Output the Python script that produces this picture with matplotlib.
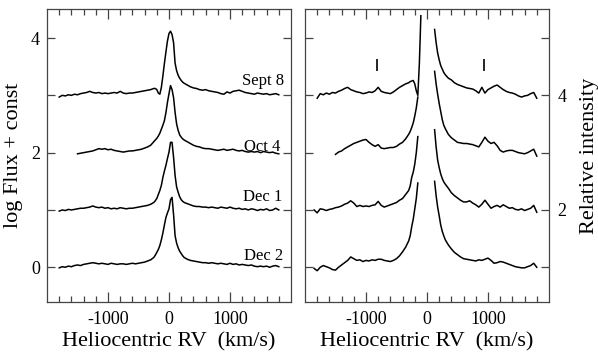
import numpy as np
import matplotlib
matplotlib.use("Agg")
import matplotlib.pyplot as plt

nan = np.nan

# --- left panel: log flux spectra (offset by 3, 2, 1, 0) ---
vel_blue = [-1800, -1750, -1700, -1650, -1600, -1550, -1500, -1450, -1400, -1350,
            -1300, -1250, -1200, -1150, -1100, -1050, -1000, -950, -900, -850,
            -800, -750, -700, -650, -600, -550, -500, -450, -400, -350, -300]
vel_core = [-250, -225, -200, -175, -150, -125, -100, -75, -50, -25, 0,
            25, 50, 75, 100, 125, 150, 175, 200, 225, 250]
vel_red = [300, 350, 400, 450, 500, 550, 600, 650, 700, 750, 800, 850, 900, 950,
           1000, 1050, 1100, 1150, 1200, 1250, 1300, 1350, 1400, 1450, 1500,
           1550, 1600, 1650, 1700, 1750, 1800]
vel = vel_blue + vel_core + vel_red

sep8 = ([2.97, 3.00, 2.99, 3.01, 3.00, 3.02, 3.01, 3.03, 3.04, 3.05,
         3.07, 3.05, 3.04, 3.05, 3.03, 3.04, 3.03, 3.04, 3.05, 3.04,
         3.07, 3.04, 3.03, 3.04, 3.04, 3.05, 3.06, 3.07, 3.08, 3.09, 3.10]
        + [3.12, 3.12, 3.10, 3.04, 3.02, 3.14, 3.34, 3.56, 3.76, 3.95, 4.08,
           4.12, 4.06, 3.92, 3.56, 3.43, 3.35, 3.30, 3.26, 3.23, 3.21]
        + [3.18, 3.15, 3.13, 3.12, 3.10, 3.09, 3.10, 3.08, 3.07, 3.06, 3.05,
           3.03, 3.02, 3.06, 3.04, 3.07, 3.08, 3.09, 3.07, 3.05, 3.04, 3.03,
           3.02, 3.04, 3.03, 3.02, 3.03, 3.01, 3.02, 3.03, 3.01])

oct4 = ([nan, nan, nan, nan, nan, nan, 1.98, 1.99, 2.00, 2.01,
         2.02, 2.03, 2.05, 2.07, 2.06, 2.07, 2.05, 2.06, 2.04, 2.03,
         2.02, 2.01, 2.02, 2.03, 2.03, 2.04, 2.05, 2.06, 2.08, 2.10, 2.13]
        + [2.19, 2.22, 2.25, 2.29, 2.34, 2.41, 2.48, 2.56, 2.70, 2.88, 3.03,
           3.17, 3.10, 2.96, 2.70, 2.50, 2.39, 2.31, 2.27, 2.24, 2.22]
        + [2.19, 2.16, 2.13, 2.11, 2.10, 2.08, 2.07, 2.07, 2.06, 2.05, 2.04,
           2.05, 2.06, 2.04, 2.05, 2.06, 2.04, 2.03, 2.04, 2.02, 2.01, 2.02,
           2.01, 2.02, 2.00, 2.02, 2.01, 2.00, 2.01, 1.99, 1.98])

dec1 = ([0.98, 1.00, 0.99, 1.01, 1.00, 1.01, 1.02, 1.03, 1.03, 1.04,
         1.05, 1.07, 1.05, 1.04, 1.05, 1.03, 1.04, 1.02, 1.03, 1.02,
         1.04, 1.03, 1.02, 1.03, 1.03, 1.04, 1.05, 1.06, 1.07, 1.08, 1.10]
        + [1.13, 1.16, 1.20, 1.27, 1.34, 1.43, 1.57, 1.68, 1.78, 1.90, 2.01,
           2.18, 2.18, 1.92, 1.60, 1.40, 1.31, 1.23, 1.18, 1.15, 1.13]
        + [1.11, 1.09, 1.07, 1.06, 1.06, 1.05, 1.05, 1.04, 1.05, 1.04, 1.03,
           1.05, 1.04, 1.03, 1.05, 1.03, 1.02, 1.03, 1.01, 1.02, 1.00, 1.02,
           1.01, 0.99, 1.01, 1.00, 1.02, 0.99, 1.00, 1.03, 1.00])

dec2 = ([-0.01, 0.01, 0.00, 0.02, 0.01, 0.03, 0.04, 0.03, 0.05, 0.06,
         0.07, 0.08, 0.07, 0.06, 0.07, 0.06, 0.05, 0.07, 0.06, 0.05,
         0.06, 0.06, 0.05, 0.06, 0.07, 0.06, 0.07, 0.08, 0.09, 0.11, 0.13]
        + [0.17, 0.21, 0.26, 0.31, 0.38, 0.48, 0.60, 0.74, 0.87, 0.95, 1.02,
           1.18, 1.22, 0.92, 0.55, 0.42, 0.34, 0.28, 0.24, 0.20, 0.17]
        + [0.14, 0.12, 0.11, 0.10, 0.09, 0.08, 0.08, 0.07, 0.08, 0.07, 0.06,
           0.07, 0.06, 0.05, 0.07, 0.05, 0.06, 0.04, 0.05, 0.04, 0.03, 0.04,
           0.02, 0.01, 0.02, 0.01, 0.02, 0.00, 0.02, 0.03, 0.01])

dates = ["Sept 8", "Oct 4", "Dec 1", "Dec 2"]
date_x = [1880, 1830, 1850, 1870]
date_y = [3.18, 2.03, 1.16, 0.13]

# --- right panel: relative intensity, core clipped ---
rvel_blue = [-1850, -1800, -1750, -1700, -1650, -1600, -1550, -1500, -1450, -1400,
             -1350, -1300, -1250, -1200, -1150, -1100, -1050, -1000, -950, -900,
             -850, -800, -750, -700, -650, -600, -550, -500, -450, -400, -350, -300]
rvel_core = [-275, -250, -225, -200, -175, -150, -125, -100, 0,
             100, 125, 150, 175, 200, 225, 250, 275]
rvel = rvel_blue + rvel_core + vel_red

r_sep8 = ([nan, 3.95, 4.03, 4.01, 4.04, 4.02, 4.05, 4.04, 4.07, 4.09,
           4.12, 4.14, 4.10, 4.08, 4.06, 4.05, 4.03, 4.04, 4.06, 4.05,
           4.08, 4.14, 4.07, 4.05, 4.04, 4.03, 4.06, 4.10, 4.14, 4.17, 4.20, 4.22]
          + [4.24, 4.25, 4.26, 4.20, 4.08, 4.00, 4.55, 5.39, nan,
             nan, 5.15, 4.92, 4.74, 4.62, 4.52, 4.46, 4.40]
          + [4.36, 4.30, 4.27, 4.22, 4.19, 4.17, 4.15, 4.13, 4.12, 4.11, 4.08,
             4.04, 4.14, 4.04, 4.10, 4.13, 4.16, 4.18, 4.14, 4.10, 4.07, 4.05,
             4.04, 4.02, 3.99, 3.97, 3.99, 4.00, 4.03, 4.05, 3.95])

r_oct4 = ([nan, nan, nan, nan, nan, nan, nan, 2.97, 3.01, 3.03,
           3.07, 3.10, 3.13, 3.16, 3.18, 3.20, 3.22, 3.23, 3.18, 3.14,
           3.11, 3.14, 3.08, 3.07, 3.08, 3.09, 3.09, 3.11, 3.15, 3.18, 3.24, 3.32]
          + [3.37, 3.44, 3.52, 3.64, 3.78, 3.97, nan, nan, nan,
             nan, 4.42, 4.20, 4.02, 3.86, 3.72, 3.58, 3.48]
          + [3.42, 3.32, 3.26, 3.22, 3.18, 3.17, 3.16, 3.16, 3.15, 3.14, 3.12,
             3.10, 3.18, 3.27, 3.20, 3.16, 3.18, 3.12, 3.04, 3.01, 3.03, 3.04,
             3.04, 3.02, 3.00, 2.99, 2.98, 3.00, 3.03, 3.06, 2.94])

r_dec1 = ([2.00, 1.95, 2.02, 2.01, 1.99, 2.01, 2.02, 2.04, 2.05, 2.07,
           2.10, 2.12, 2.16, 2.12, 2.06, 2.08, 2.06, 2.07, 2.06, 2.08,
           2.09, 2.15, 2.08, 2.05, 2.07, 2.09, 2.11, 2.13, 2.17, 2.20, 2.27, 2.34]
          + [2.42, 2.57, 2.66, 2.80, 3.00, 3.28, nan, nan, nan,
             nan, 3.40, 3.10, 2.87, 2.74, 2.63, 2.55, 2.49]
          + [2.45, 2.38, 2.30, 2.25, 2.21, 2.17, 2.14, 2.14, 2.16, 2.12, 2.09,
             2.05, 2.10, 2.17, 2.10, 2.03, 2.06, 2.08, 2.05, 2.09, 2.06, 2.03,
             2.04, 2.01, 2.00, 2.02, 1.99, 2.01, 2.03, 2.08, 1.96])

r_dec2 = ([0.98, 0.94, 1.00, 1.03, 1.01, 0.99, 0.96, 0.95, 1.00, 1.04,
           1.08, 1.12, 1.18, 1.15, 1.12, 1.13, 1.10, 1.12, 1.11, 1.13,
           1.12, 1.14, 1.14, 1.12, 1.11, 1.10, 1.12, 1.15, 1.20, 1.27, 1.35, 1.46]
          + [1.55, 1.71, 1.84, 2.02, 2.20, 2.47, nan, nan, nan,
             nan, 2.50, 2.25, 2.05, 1.90, 1.74, 1.63, 1.55]
          + [1.48, 1.39, 1.32, 1.26, 1.22, 1.18, 1.15, 1.14, 1.13, 1.12, 1.11,
             1.13, 1.12, 1.14, 1.16, 1.12, 1.07, 1.08, 1.10, 1.09, 1.07, 1.05,
             1.03, 1.01, 1.00, 0.99, 0.99, 1.01, 1.03, 1.07, 1.00])

# short vertical markers above the Sept 8 spectrum
mark_vel = [-820, 935]
mark_lo = 4.43
mark_hi = 4.64

plt.rcParams["font.family"] = ["Liberation Serif", "DejaVu Serif"]
edge = "#444444"

fig = plt.figure(figsize=(5.98, 3.54), dpi=100)
ax1 = fig.add_axes([0.0786, 0.1469, 0.408, 0.8277])
ax2 = fig.add_axes([0.510, 0.1469, 0.408, 0.8277])

for spec in [sep8, oct4, dec1, dec2]:
    ax1.plot(vel, spec, color="black", lw=1.1)
for name, x, y in zip(dates, date_x, date_y):
    ax1.text(x, y, name, ha="right", va="baseline", fontsize=12)

for spec in [r_sep8, r_oct4, r_dec1, r_dec2]:
    ax2.plot(rvel, spec, color="black", lw=1.1)
ax2.vlines(mark_vel, mark_lo, mark_hi, color="black", lw=1.2)

for ax in [ax1, ax2]:
    ax.set_xlim(-2000, 2000)
    ax.set_xticks([-1000, 0, 1000])
    ax.set_xticklabels(["-1000", "0", "1000"])
    ax.set_xticks(list(range(-1800, 1801, 200)), minor=True)
    ax.tick_params(axis="x", which="major", direction="in", length=7, width=0.9,
                   top=True, bottom=True, labelsize=13, pad=6.5, color=edge)
    ax.tick_params(axis="x", which="minor", direction="in", length=4.5, width=0.9,
                   top=True, bottom=True, color=edge)
    ax.tick_params(axis="y", direction="in", length=5.8, width=0.9,
                   left=True, right=True, labelsize=13, pad=5, color=edge)
    ax.set_xlabel("Heliocentric RV  (km/s)", fontsize=16, labelpad=3)
    for s in ax.spines.values():
        s.set_color(edge)
        s.set_linewidth(0.9)

ax1.set_ylim(-0.606, 4.507)
ax1.set_yticks([0, 1, 2, 3, 4])
ax1.set_yticklabels(["0", "", "2", "", "4"])
ax1.set_ylabel("log Flux + const", fontsize=16, labelpad=6)

ax2.set_ylim(0.394, 5.507)
ax2.set_yticks([1, 2, 3, 4, 5])
ax2.set_yticklabels(["", "2", "", "4", ""])
ax2.tick_params(axis="y", labelleft=False, labelright=True, pad=6)
ax2.yaxis.set_label_position("right")
ax2.set_ylabel("Relative intensity", fontsize=16, labelpad=10)

fig.savefig("out.png", dpi=100)
